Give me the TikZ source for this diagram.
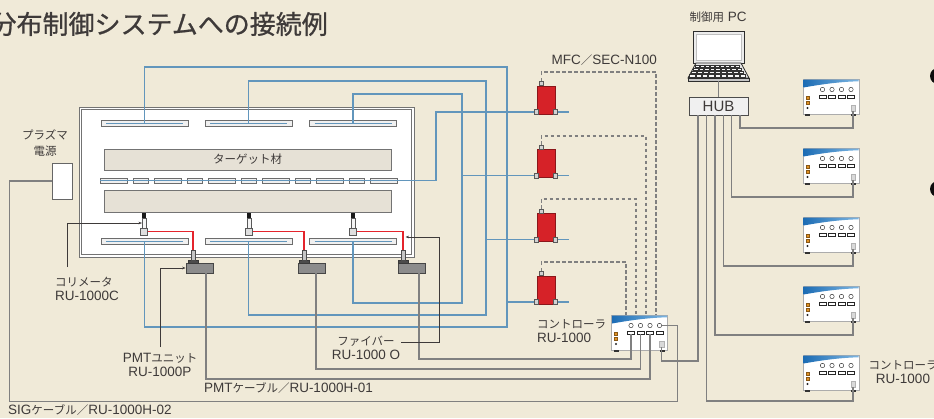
\documentclass[tikz,border=0pt]{standalone}
\usepackage{fontspec}
\setmainfont{Liberation Sans}
\newfontfamily\jpfont{Noto Sans CJK JP}
\newfontfamily\jptitle[FakeBold=0.8]{Noto Sans CJK JP}
\usepackage{tikz}
\usetikzlibrary{
	positioning,
	arrows.meta
}

\definecolor{paper}{RGB}{240,234,216}
\definecolor{ink}{RGB}{62,58,57}
\definecolor{gasblue}{RGB}{98,150,188}
\definecolor{cablegray}{RGB}{128,128,128}
\definecolor{mfcred}{RGB}{214,34,40}
\definecolor{fiberred}{RGB}{228,36,44}
\definecolor{platefill}{RGB}{230,225,214}
\definecolor{pmtgray}{RGB}{140,140,140}
\definecolor{unitblue}{RGB}{28,108,180}
\definecolor{unitsky}{RGB}{125,182,226}
\definecolor{lamp}{RGB}{226,146,36}

\newcommand{\jp}[1]{{\jpfont\fontsize{11.5}{14}\selectfont #1}}

\tikzset{
	lbl/.style={font=\fontsize{13.5}{14}\selectfont, text=ink, inner sep=0pt},
	gas/.style={gasblue, line width=1.5pt},
	sig/.style={cablegray, line width=1.4pt},
	ctl/.style={cablegray, line width=1.2pt, dash pattern=on 3.5pt off 2.5pt},
	fiber/.style={fiberred, line width=1.3pt},
	leader/.style={ink, line width=0.6pt, -{Stealth[length=3.5pt,width=2.6pt]}},
	plate/.style={draw=gray!90!black, fill=platefill, line width=0.8pt,
		minimum width=287pt, minimum height=21pt, inner sep=0pt},
	electrode/.style={draw=gray!85!black, fill=gray!12, line width=0.7pt,
		minimum width=87pt, minimum height=6pt, inner sep=0pt,
		path picture={\draw[gasblue, line width=1pt]
			([xshift=5pt]path picture bounding box.west) --
			([xshift=-5pt]path picture bounding box.east);}},
	nozzle/.style={draw=gray!85!black, fill=gray!12, line width=0.7pt,
		minimum height=5pt, inner sep=0pt, anchor=west},
	colhead/.style={fill=gray!20!black, minimum width=3.5pt, minimum height=5pt, inner sep=0pt},
	coltube/.style={draw=gray!70!black, fill=gray!8, line width=0.5pt,
		minimum width=3.5pt, minimum height=10pt, inner sep=0pt},
	collens/.style={draw=gray!70!black, fill=gray!25, line width=0.6pt,
		minimum width=6.5pt, minimum height=7pt, inner sep=0pt},
	pmt/.style={draw=gray!55!black, fill=pmtgray, line width=0.8pt,
		minimum width=27pt, minimum height=10pt, inner sep=0pt},
	pmtbase/.style={draw=gray!45!black, fill=gray!60!black, line width=0.5pt,
		minimum width=10pt, minimum height=3pt, inner sep=0pt},
	pmttube/.style={draw=gray!60!black, fill=gray!45, line width=0.5pt,
		minimum width=4.5pt, minimum height=10pt, inner sep=0pt},
	mfc/.style={draw=mfcred!65!black, fill=mfcred, line width=0.7pt,
		minimum width=18pt, minimum height=28pt, inner sep=0pt},
	port/.style={draw=gray!70!black, fill=gray!35, line width=0.5pt,
		minimum width=4pt, minimum height=5pt, inner sep=0pt},
	% controller box, centred on its position
	unit/.pic={
		\draw[gray!65, fill=white, line width=0.9pt] (-28,-17.5) rectangle (28,17.5);
		\shade[left color=unitblue, right color=unitsky]
			(-27.5,-17) -- (27.5,-17) -- (27.5,-15.2)
			.. controls (10,-14.8) and (-8,-12.5) .. (-27.5,-9) -- cycle;
		\foreach \k [count=\n] in {-8.5,1,10.5,20} {
			\draw[gray!30!black, line width=0.45pt] (\k,-7) circle (2.2);
			\draw[gray!30!black, line width=0.45pt] (\k-3.6,-1.5) rectangle (\k+3.6,1.3);
			\coordinate (-o\n) at (\k,1.3);
		}
		\coordinate (-sig) at (22.2,-7);
		\foreach \y in {1,6.5}
			\draw[lamp!60!black, fill=lamp, line width=0.3pt] (-25,\y-1.4) rectangle (-22,\y+1.4);
		\fill[gray!30!black] (-23.5,11.5) circle (1.1);
		\draw[gray!60, fill=gray!30, line width=0.4pt] (19.8,8.5) rectangle (24.2,14.5);
		\coordinate (-lan) at (22,14.5);
		\coordinate (-top) at (0,-17.5);
		\fill[gray!40!black] (-26,17.5) rectangle (-21,19.5);
		\fill[gray!40!black] (20,17.5) rectangle (25,19.5);
	}
}

\begin{document}
\begin{tikzpicture}[x=1pt,y=-1pt]
	\useasboundingbox (0,0) rectangle (934,418);
	\fill[paper] (0,0) rectangle (934,418);

	% process chamber
	\node[draw=gray!90!black, double=white, double distance=1.8pt, line width=0.7pt,
		fill=white, minimum width=332.5pt, minimum height=147.5pt, inner sep=0pt]
		(chamber) at (246.75,182.25) {};
	\node[plate, text=ink] (target) at (247.5,159.5) {\jp{ターゲット材}};
	\node[plate, minimum height=22pt] (stage) at (247.5,201) {};
	\foreach \x [count=\i] in {144.5,248.5,353} {
		\node[electrode] (et\i) at (\x,123.5) {};
		\node[electrode] (eb\i) at (\x,241) {};
	}
	\foreach \i in {0,...,5}
		\node[nozzle, minimum width=27pt] (s\i) at ({100+54*\i},180.5) {};
	\foreach \i in {0,...,4}
		\node[nozzle, minimum width=15pt] (t\i) at ({133+54*\i},180.5) {};
	\foreach \x [count=\i] in {144,249,353} {
		\node[colhead] (ch\i) at (\x,215.5) {};
		\node[coltube] (ct\i) at (\x,223) {};
		\node[collens] (cl\i) at (\x,231.5) {};
	}

	% mass flow controllers
	\foreach \y [count=\j] in {100,163.5,227.5,290} {
		\node[mfc] (m\j) at (546,\y) {};
		\node[port] (mi\j) at ([yshift=2.5pt]m\j.south west) {};
		\node[port] (mo\j) at ([yshift=2.5pt]m\j.south east) {};
		\node[port, minimum height=4pt, anchor=south] (mt\j) at ([xshift=4.5pt]m\j.north west) {};
		\draw[gas] (mo\j.east) -- ++(11,0);
	}

	% gas piping
	\draw[gas] (s0.west) -- ++(336,0) |- (mi1.west);
	\foreach \tx/\ty/\by [count=\i] in {507/67/327, 486/81/315, 462/94/303} {
		\coordinate (tr\i) at (\tx,\ty);
		\coordinate (tb\i) at (\tx,\by);
		\draw[gas] (et\i.center) |- (tr\i) -- (tb\i) -| (eb\i.center);
	}
	\draw[gas] (tr3 |- mi2.west) -- (mi2.west);
	\draw[gas] (tr2 |- mi3.west) -- (mi3.west);
	\draw[gas] (tr1 |- mi4.west) -- (mi4.west);

	% photomultipliers and fibres
	\foreach \x/\t [count=\i] in {199.5/193, 311.5/304, 412/403} {
		\node[pmt] (pm\i) at (\x,268) {};
		\node[pmtbase] (pb\i) at (\t,261.5) {};
		\node[pmttube] (pt\i) at (\t,255) {};
		\coordinate (fk\i) at (cl\i.east -| pt\i.north);
		\draw[fiber] (cl\i.east) -- (fk\i) -- (pt\i.north);
		\path (fk\i) ++(0,5.5) coordinate (fb\i);
	}

	\node[draw=gray!80!black, fill=white, line width=0.8pt, minimum width=20pt,
		minimum height=36pt, inner sep=0pt] (src) at (62,181) {};

	% controllers
	\pic (c0) at (639.5,332.5) {unit};
	\foreach \u [count=\n from 0] in {ua,ub,uc,ud,ue}
		\pic (\u) at (831,{96.5+69*\n}) {unit};

	% notebook and hub
	\coordinate (pc) at (718.5,81);
	\draw[gray!35!black, fill=gray!15, line width=0.8pt] (693,31) rectangle (744,63);
	\draw[gray!50, fill=white, line width=0.5pt] (696,34) rectangle (741,60);
	\draw[gray!35!black, fill=gray!20, line width=0.8pt]
		(696,63) -- (741,63) -- (749,78) -- (688,78) -- cycle;
	\draw[gray!35!black, fill=gray!45, line width=0.6pt] (688,78) rectangle (749,81);
	\foreach \r in {0,...,3}
		\foreach \k in {0,...,8}
			\draw[gray!40!black, fill=gray!5, line width=0.35pt]
				({695.5-2*\r+\k*(5+0.45*\r)},{64.8+3.2*\r}) rectangle ++({4+0.45*\r},2.3);
	\node[draw=gray!60!black, fill=gray!12, line width=0.8pt, minimum width=59pt,
		minimum height=18pt, inner sep=0pt, text=ink,
		font=\fontsize{15}{15}\selectfont] (hub) at (718.5,106) {HUB};
	\draw[cablegray, line width=1pt] (pc) -- (hub.north);

	% signal cables
	\foreach \j/\dx/\dy in {1/656/72, 2/646/136, 3/636/199, 4/626/262} {
		\coordinate (dc\j) at (\dx,\dy);
		\draw[ctl] (mt\j.north) |- (dc\j) -- (dc\j |- c0-top);
	}
	\draw[sig] (c0-o1) -- ++(0,25) -| ([xshift=7pt]pm3.south);
	\draw[sig] (c0-o2) -- ++(0,35) -| ([xshift=4.5pt]pm2.south);
	\draw[sig] (c0-o3) -- ++(0,45) -| ([xshift=6.5pt]pm1.south);
	\draw[sig] (c0-sig) -| ++(16,76) -- ++(-668,0) |- (src.west);
	\draw[sig] (c0-lan) -- ++(0,14) -| ([xshift=-20.5pt]hub.south);
	\foreach \u/\dx/\dy in {ua/21.5/17, ub/13.1/17, uc/4.7/17, ud/-3.7/17, ue/-12.1/14}
		\draw[sig] (\u-lan) -- ++(0,\dy) -| ([xshift=\dx pt]hub.south);

	% labels
	\node[lbl, anchor=east, font=\jptitle\fontsize{26}{28}\selectfont] (lbtitle) at (328,24)
		{分布制御システムへの接続例};
	\node[lbl] (lbpc) at (718,17) {\jp{制御用} PC};
	\node[lbl, anchor=east] (lbmfc) at (657,60) {MFC\jp{／}SEC-N100};
	\node[lbl, align=center] (lbsrc) at (45,143) {\jp{プラズマ}\\[2pt]\jp{電源}};
	\node[lbl, align=left, anchor=west] (lbcol) at (55,289) {\jp{コリメータ}\\RU-1000C};
	\node[lbl, align=center] (lbpmt) at (160,365) {PMT\jp{ユニット}\\RU-1000P};
	\node[lbl, align=center] (lbfib) at (366,347.5) {\jp{ファイバー}\\RU-1000 O};
	\node[lbl, align=left, anchor=west] (lbctrl) at (537,331) {\jp{コントローラ}\\RU-1000};
	\node[lbl, anchor=west] (lbpcab) at (204,388) {PMT\jp{ケーブル／}RU-1000H-01};
	\node[lbl, anchor=west] (lbscab) at (8,410) {SIG\jp{ケーブル／}RU-1000H-02};
	\node[lbl, align=center] (lbunits) at (903,372.5) {\jp{コントローラ}\\RU-1000};

	\draw[leader] ([xshift=12pt,yshift=10pt]lbcol.north west) |- (ct1.west);
	\draw[leader] ([yshift=6pt]lbpmt.north) |- (pm1.west);
	\draw[leader] ([xshift=1pt,yshift=-7pt]lbfib.north east) -| ([xshift=36pt]fb3) -- ([xshift=2.5pt]fb3);

	% bullets of the next column
	\fill[gray!10!black] (938,76) circle (8);
	\fill[gray!10!black] (938,189) circle (8);
\end{tikzpicture}
\end{document}
